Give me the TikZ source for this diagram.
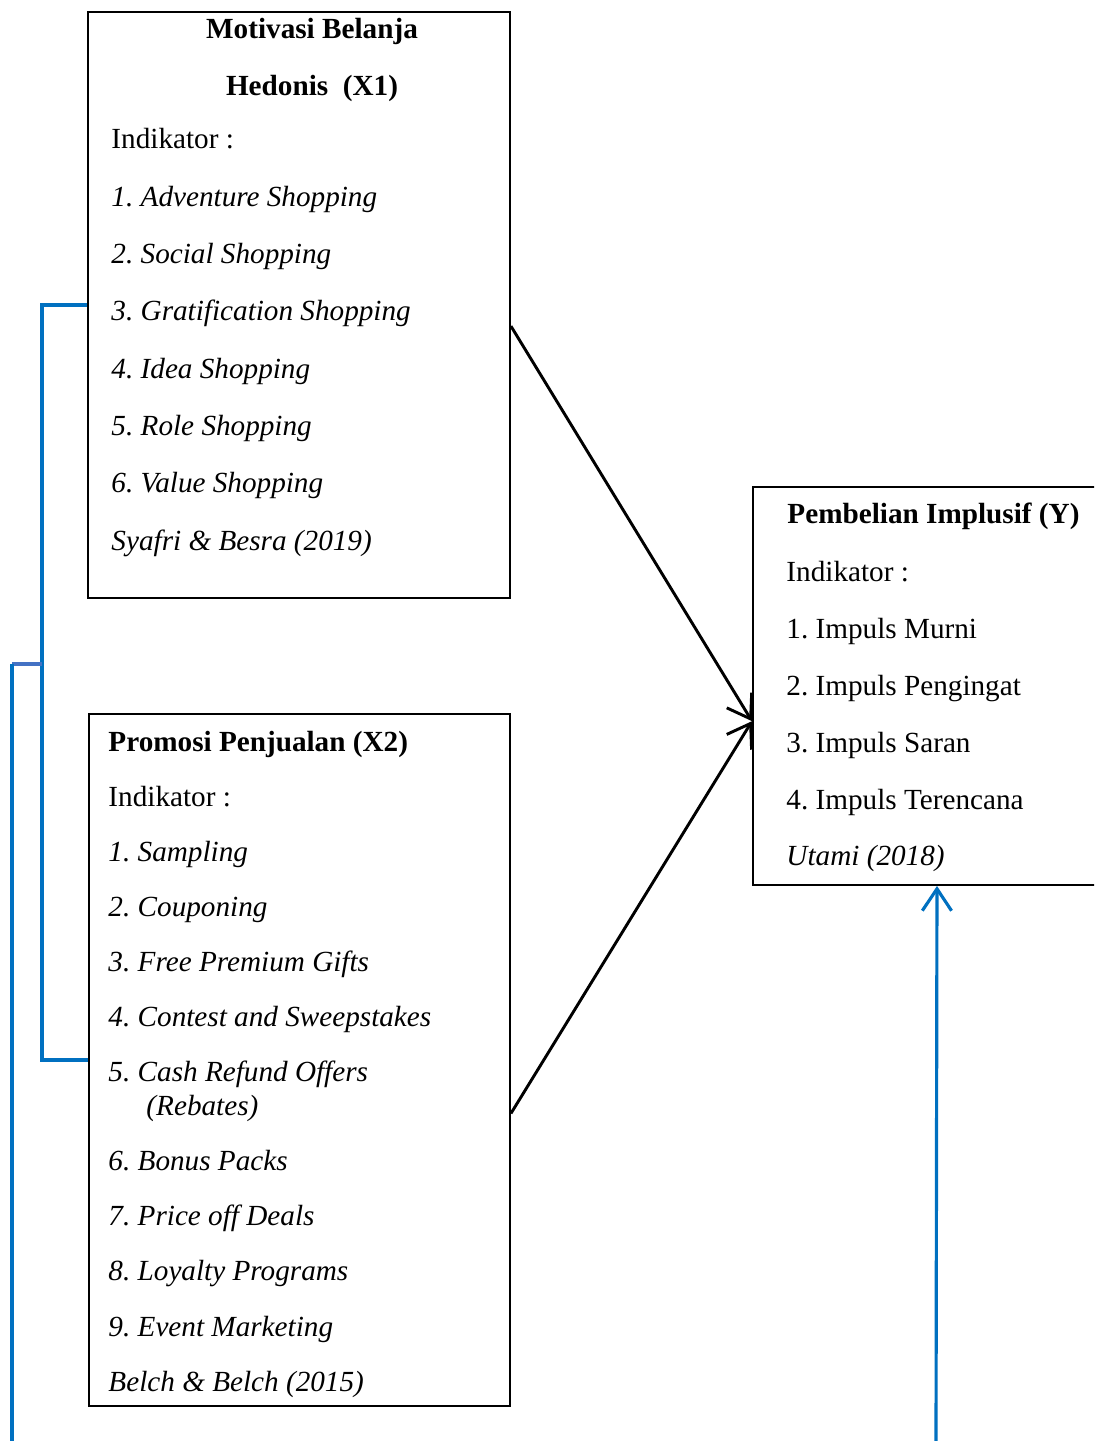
\documentclass[tikz,border=0pt]{standalone}
\usepackage{fontspec}
\setmainfont{Liberation Serif}
\usetikzlibrary{calc,arrows.meta}

\definecolor{linkblue}{HTML}{0070C0}
\definecolor{linkblue2}{HTML}{4472C4}

\begin{document}
\frenchspacing
\begin{tikzpicture}[x=0.411pt,y=-0.411pt,font=\fontsize{12}{14}\selectfont]
   \tikzset{box/.style 2 args={draw,thick,anchor=north west,inner sep=0pt,minimum width={#1*0.411pt},minimum height={#2*0.411pt}},
            txt/.style={anchor=base west,inner sep=0pt},
            itm/.style={txt,font=\fontsize{12}{14}\selectfont\itshape},
            head/.style={anchor=base,inner sep=0pt,font=\fontsize{12}{14}\selectfont\bfseries},
            arr/.style={line width=1.2pt,-{Straight Barb[length=9pt,width=12pt,line width=1.2pt]}},
            link/.style={draw=linkblue,line width=1.3pt}};

\clip (0,0) rectangle (1094,1441);

% boxes
\node[box={422}{586}] (x1) at (87,11) {};
\node[box={421}{692}] (x2) at (88,713) {};
\node[box={368}{398}] (ybox) at (752,486) {};

% X1
\node[head] (x1h1) at (312,39) {Motivasi Belanja};
\node[head] (x1h2) at (312,96) {Hedonis\ \ (X1)};
\node[txt] (x1ind) at (111,149) {Indikator :};
\foreach \t [count=\i] in {Adventure Shopping,Social Shopping,Gratification Shopping,Idea Shopping,Role Shopping,Value Shopping}
   \node[itm] (x1i\i) at (111,{149+57.3*\i}) {\i. \t};
\node[itm] (x1src) at (111,550) {Syafri \& Besra (2019)};

% X2
\node[head,anchor=base west] (x2h) at (108,751) {Promosi Penjualan (X2)};
\node[txt] (x2ind) at (108,806) {Indikator :};
\foreach \t [count=\i] in {Sampling,Couponing,Free Premium Gifts,Contest and Sweepstakes,Cash Refund Offers}
   \node[itm] (x2i\i) at (108,{806+55*\i}) {\i. \t};
\node[itm] (x2reb) at (146,1115) {(Rebates)};
\foreach \t [count=\i from 6] in {Bonus Packs,Price off Deals,Loyalty Programs,Event Marketing}
   \node[itm] (x2i\i) at (108,{1115+55.3*(\i-5)}) {\i. \t};
\node[itm] (x2src) at (108,1391) {Belch \& Belch (2015)};

% Y
\node[head,anchor=base west] (yh) at (787,523) {Pembelian Implusif (Y)};
\node[txt] (yind) at (786,581) {Indikator :};
\foreach \t [count=\i] in {Impuls Murni,Impuls Pengingat,Impuls Saran,Impuls Terencana}
   \node[txt] (yi\i) at (786,{581+57*\i}) {\i. \t};
\node[itm] (ysrc) at (786,865) {Utami (2018)};

% arrows
\draw[arr] ($(x1.north east)!0.536!(x1.south east)$) -- ($(ybox.north west)!0.588!(ybox.south west)$);
\draw[arr] ($(x2.north east)!0.577!(x2.south east)$) -- ($(ybox.north west)!0.588!(ybox.south west)$);

% blue lines
\coordinate (fb) at (12,1441);
\coordinate (yin) at (936,1441);
\draw[link] (x1.west) -- ++(-45,0) coordinate (brk) |- (x2.west);
\draw[draw=linkblue2,line width=1.3pt] (brk |- 0,664) -- (fb |- 0,664);
\draw[link] (fb |- 0,664) -- (fb);
\draw[link,-{Straight Barb[length=9pt,width=12pt,line width=1.3pt]}] (yin) -- (ybox.south);

\end{tikzpicture}
\end{document}
